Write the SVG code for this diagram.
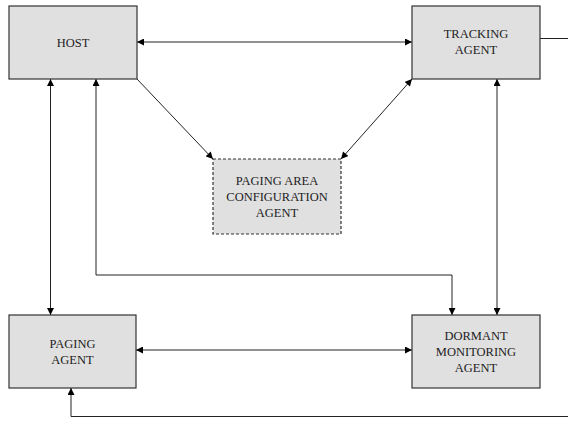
<svg xmlns="http://www.w3.org/2000/svg" width="568" height="422" viewBox="0 0 568 422">
<style>
.box{fill:#e0e0e0;stroke:#333;stroke-width:1.2}
.dash{stroke-dasharray:3,2}
.t{font-family:"Liberation Serif","Times New Roman",serif;font-size:12.5px;fill:#222;text-anchor:middle}
.c{fill:none;stroke:#222;stroke-width:1}
</style>
<defs>
<marker id="a" viewBox="0 0 10 10" refX="10" refY="5" markerWidth="8" markerHeight="7" markerUnits="userSpaceOnUse" orient="auto-start-reverse">
<path d="M0,0L10,5L0,10z" fill="#000"/>
</marker>
</defs>
<rect width="568" height="422" fill="#fff"/>
<g id="connectors">
<line class="c" x1="137" y1="42" x2="412" y2="42" marker-start="url(#a)" marker-end="url(#a)"/>
<line class="c" x1="540" y1="38.5" x2="568" y2="38.5"/>
<line class="c" x1="137" y1="79" x2="213" y2="159" marker-end="url(#a)"/>
<line class="c" x1="412" y1="79" x2="341" y2="159" marker-start="url(#a)" marker-end="url(#a)"/>
<line class="c" x1="50.5" y1="79" x2="50.5" y2="315" marker-start="url(#a)" marker-end="url(#a)"/>
<polyline class="c" points="96,79 96,275 452,275 452,315" marker-start="url(#a)" marker-end="url(#a)"/>
<line class="c" x1="497" y1="79" x2="497" y2="315" marker-start="url(#a)" marker-end="url(#a)"/>
<line class="c" x1="136" y1="350" x2="412" y2="350" marker-start="url(#a)" marker-end="url(#a)"/>
<polyline class="c" points="568,416.5 71,416.5 71,388" marker-end="url(#a)"/>
</g>
<g id="host">
<rect class="box" x="9" y="6" width="128" height="73"/>
<text class="t" x="73" y="46.5">HOST</text>
</g>
<g id="tracking">
<rect class="box" x="412" y="6" width="128" height="73"/>
<text class="t" x="476" y="38">TRACKING</text>
<text class="t" x="476" y="54">AGENT</text>
</g>
<g id="pagingarea">
<rect class="box dash" x="213" y="159" width="128" height="75"/>
<text class="t" x="277" y="184.5">PAGING AREA</text>
<text class="t" x="277" y="200.5">CONFIGURATION</text>
<text class="t" x="277" y="216.5">AGENT</text>
</g>
<g id="paging">
<rect class="box" x="9" y="315" width="127" height="73"/>
<text class="t" x="72.5" y="347.5">PAGING</text>
<text class="t" x="72.5" y="363.5">AGENT</text>
</g>
<g id="dormant">
<rect class="box" x="412" y="315" width="128" height="73"/>
<text class="t" x="476" y="340">DORMANT</text>
<text class="t" x="476" y="356">MONITORING</text>
<text class="t" x="476" y="372">AGENT</text>
</g>
</svg>
